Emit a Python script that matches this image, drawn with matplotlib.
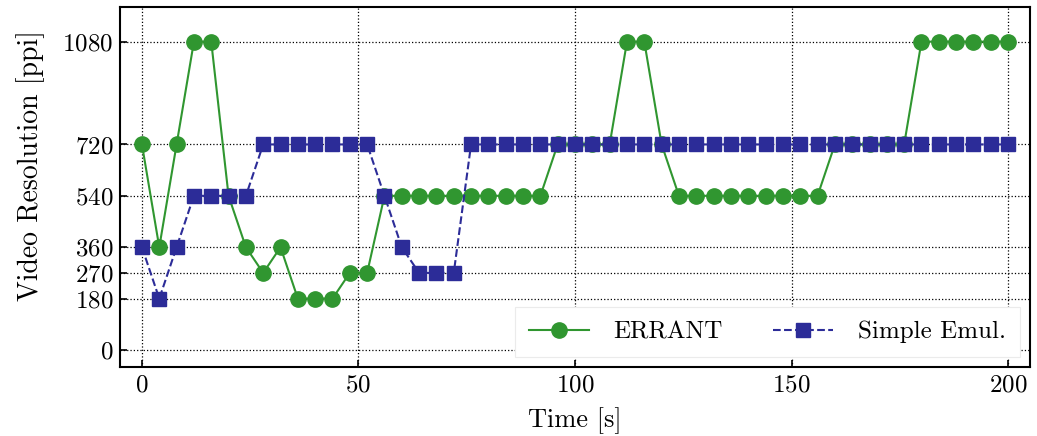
import matplotlib
matplotlib.use("Agg")
import matplotlib.pyplot as plt

plt.rcParams['font.family'] = ['cmr10', 'DejaVu Serif']
plt.rcParams['mathtext.fontset'] = 'cm'
plt.rcParams['axes.formatter.use_mathtext'] = True

# time axis (one sample every 4 s)
time_s = list(range(0, 201, 4))

errant = [720, 360, 720, 1080, 1080, 540, 360, 270, 360, 180,
          180, 180, 270, 270, 540, 540, 540, 540, 540, 540,
          540, 540, 540, 540, 720, 720, 720, 720, 1080, 1080,
          720, 540, 540, 540, 540, 540, 540, 540, 540, 540,
          720, 720, 720, 720, 720, 1080, 1080, 1080, 1080, 1080,
          1080]

simple_emul = [360, 180, 360, 540, 540, 540, 540, 720, 720, 720,
               720, 720, 720, 720, 540, 360, 270, 270, 270, 720,
               720, 720, 720, 720, 720, 720, 720, 720, 720, 720,
               720, 720, 720, 720, 720, 720, 720, 720, 720, 720,
               720, 720, 720, 720, 720, 720, 720, 720, 720, 720,
               720]

y_ticks = [0, 180, 270, 360, 540, 720, 1080]
x_ticks = [0, 50, 100, 150, 200]

fig = plt.figure(figsize=(10.37, 4.36), dpi=100)
ax = fig.add_axes([0.116, 0.158, 0.877, 0.825])

ax.plot(time_s, errant, color='#309630', marker='o', markersize=11,
        linewidth=1.5, linestyle='-', label='ERRANT', zorder=3)
ax.plot(time_s, simple_emul, color='#2c2c98', marker='s', markersize=10.5,
        linewidth=1.5, linestyle='--', label='Simple Emul.', zorder=3)

ax.set_xlim(-5, 205)
ax.set_ylim(-60, 1200)
ax.set_xticks(x_ticks)
ax.set_yticks(y_ticks)
ax.grid(True, linestyle=':', color='black', linewidth=0.9)
ax.tick_params(direction='in', labelsize=18, length=5, width=1.2, pad=5)
for s in ax.spines.values():
    s.set_linewidth(1.5)

ax.set_xlabel('Time [s]', fontsize=19, labelpad=8)
ax.set_ylabel('Video Resolution [ppi]', fontsize=20)
ax.yaxis.set_label_coords(-0.083, 0.56)

leg = ax.legend(loc='lower right', ncol=2, fontsize=18, framealpha=1,
                edgecolor='0.92', fancybox=False, handlelength=2.4,
                handletextpad=1.0, columnspacing=2.0,
                borderaxespad=0.4, borderpad=0.55)
leg.get_frame().set_linewidth(0.8)

fig.savefig('out.png', dpi=100)
